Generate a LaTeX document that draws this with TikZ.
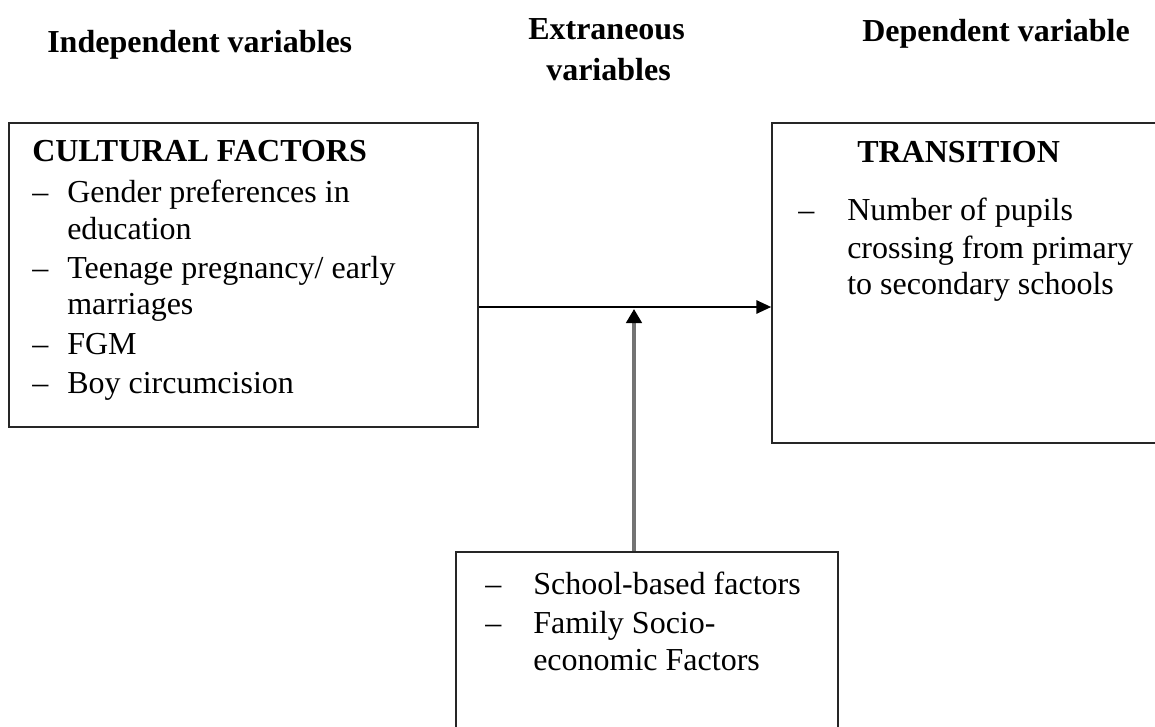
\documentclass[tikz,border=0pt]{standalone}
\usepackage{fontspec}
\setmainfont{Liberation Serif}
\usetikzlibrary{arrows.meta,fit}
\begin{document}
\begin{tikzpicture}[x=0.75pt,y=-0.75pt,
  txt/.style={anchor=base west,inner sep=0pt,font=\fontsize{24}{27.75}\selectfont},
  hdr/.style={anchor=base west,inner sep=0pt,font=\fontsize{24}{27.75}\selectfont\bfseries},
  box/.style={draw=black!85,line width=1.3pt,inner sep=0pt,rectangle},
  harr/.style={draw=black,line width=1.1pt,-{Triangle[length=11pt,width=10pt]}},
  varr/.style={draw=black!55,line width=2.5pt,-{Triangle[length=10.5pt,width=11.5pt,color=black]}}]
\clip (0,0) rectangle (1155,727);
\fill[white] (0,0) rectangle (1155,727);
% headers
\node[hdr] (h1) at (47,53) {Independent variables};
\node[hdr] (h2a) at (528,40) {Extraneous};
\node[hdr] (h2b) at (546,81) {variables};
\node[hdr] (h3) at (862,42) {Dependent variable};
% boxes
\node[box,fit={(9,123) (478,427)}] (lbox) {};
\node[box,fit={(772,123) (1180,443)}] (rbox) {};
\node[box,fit={(456,552) (838,770)}] (bbox) {};
% left box text
\node[hdr] (lt) at (32,162) {CULTURAL FACTORS};
\node[txt] (ld1) at (32,203) {–};
\node[txt] (l1a) at (67,203) {Gender preferences in};
\node[txt] (l1b) at (67,239) {education};
\node[txt] (ld2) at (32,278) {–};
\node[txt] (l2a) at (67,278) {Teenage pregnancy/ early};
\node[txt] (l2b) at (67,314) {marriages};
\node[txt] (ld3) at (32,354) {–};
\node[txt] (l3) at (67,354) {FGM};
\node[txt] (ld4) at (32,393) {–};
\node[txt] (l4) at (67,393) {Boy circumcision};
% right box text
\node[hdr] (rt) at (857,163) {TRANSITION};
\node[txt] (rd1) at (798,221) {–};
\node[txt] (r1a) at (847,221) {Number of pupils};
\node[txt] (r1b) at (847,258) {crossing from primary};
\node[txt] (r1c) at (847,294) {to secondary schools};
% bottom box text
\node[txt] (bd1) at (485,594) {–};
\node[txt] (b1) at (533,594) {School-based factors};
\node[txt] (bd2) at (485,633) {–};
\node[txt] (b2a) at (533,633) {Family Socio-};
\node[txt] (b2b) at (533,670) {economic Factors};
% connectors
\coordinate (tip) at (634,309);
\draw[harr] (lbox.east |- 0,307) -- (rbox.west |- 0,307);
\draw[varr] (bbox.north -| 634,0) -- (tip);
\end{tikzpicture}
\end{document}
